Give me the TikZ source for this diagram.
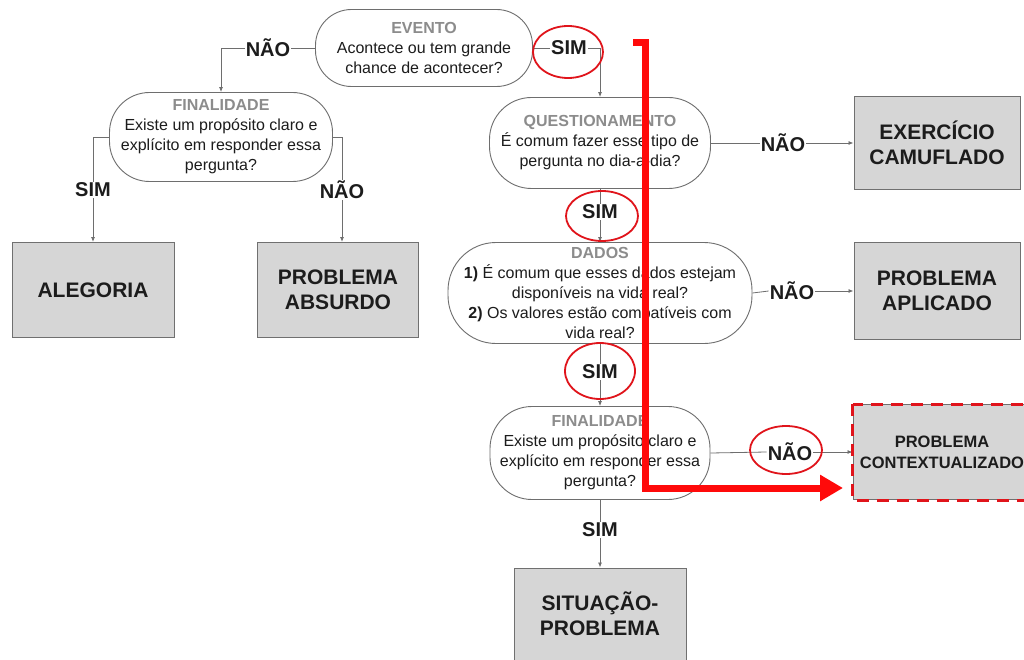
\documentclass[tikz,border=0pt]{standalone}
\usepackage{fontspec}
\setmainfont{Liberation Sans}
\usetikzlibrary{arrows.meta,calc}
\definecolor{linec}{HTML}{6E6E6E}
\definecolor{boxfill}{HTML}{D6D6D6}
\definecolor{boxdraw}{HTML}{707070}
\definecolor{titlec}{HTML}{8C8C8C}
\definecolor{textc}{HTML}{1C1C1C}
\definecolor{redc}{HTML}{E0141B}
\definecolor{redarrow}{HTML}{FF0A0A}
\begin{document}
\begin{tikzpicture}[x=1pt,y=-1pt,
 stadium/.style={draw=linec, line width=0.9pt, fill=white, align=center, inner sep=0pt, text=textc, font=\fontsize{16}{20}\selectfont},
 result/.style={draw=boxdraw, line width=1pt, fill=boxfill, align=center, inner sep=0pt, text=textc, font=\bfseries\fontsize{21}{25}\selectfont},
 lab/.style={fill=white, inner sep=1pt, text=textc, font=\bfseries\fontsize{20}{24}\selectfont},
 conn/.style={draw=linec, line width=0.8pt},
 arr/.style={conn, -{Latex[length=5pt,width=4pt]}},
 circ/.style={draw=redc, line width=1.8pt}
]
\useasboundingbox (0,0) rectangle (1024,660);
\fill[white] (0,0) rectangle (1024,660);
\clip (0,0) rectangle (1024,660);

% decision nodes
\node[stadium, minimum width=217pt, minimum height=77pt, rounded corners=36pt] (ev) at (424,48)
  {{\bfseries\color{titlec}EVENTO}\\Acontece ou tem grande\\chance de acontecer?};
\node[stadium, minimum width=223pt, minimum height=89pt, rounded corners=40pt] (fin1) at (221,137)
  {{\bfseries\color{titlec}FINALIDADE}\\Existe um propósito claro e\\explícito em responder essa\\pergunta?};
\node[stadium, minimum width=221pt, minimum height=91pt, rounded corners=42pt] (q) at (600,143)
  {{\bfseries\color{titlec}QUESTIONAMENTO}\\É comum fazer esse tipo de\\pergunta no dia-a-dia?};
\node[stadium, minimum width=304pt, minimum height=101pt, rounded corners=48pt] (dados) at (600,293)
  {{\bfseries\color{titlec}DADOS}\\\textbf{1)} É comum que esses dados estejam\\disponíveis na vida real?\\\textbf{2)} Os valores estão compatíveis com\\vida real?};
\node[stadium, minimum width=220pt, minimum height=93pt, rounded corners=42pt] (fin2) at (600,453)
  {{\bfseries\color{titlec}FINALIDADE}\\Existe um propósito claro e\\explícito em responder essa\\pergunta?};

% result boxes
\node[result, minimum width=162pt, minimum height=95pt] (aleg) at (93,290) {ALEGORIA};
\node[result, minimum width=161pt, minimum height=95pt] (abs) at (338,290) {PROBLEMA\\ABSURDO};
\node[result, minimum width=166pt, minimum height=93pt] (exer) at (937,143) {EXERCÍCIO\\CAMUFLADO};
\node[result, minimum width=166pt, minimum height=97pt] (aplic) at (937,291) {PROBLEMA\\APLICADO};
\node[result, minimum width=178pt, minimum height=95pt, font=\bfseries\fontsize{16.5}{21}\selectfont] (ctx) at (942,452) {PROBLEMA\\CONTEXTUALIZADO};
\node[result, minimum width=172pt, minimum height=92pt] (sit) at (600,614) {SITUAÇÃO-\\PROBLEMA};

% labels
\node[lab] (nao1) at (268,48) {NÃO};
\node[lab] (sim1) at (569,48) {SIM};
\node[lab] (sim2) at (93,190) {SIM};
\node[lab] (nao2) at (342,190) {NÃO};
\node[lab] (sim3) at (600,212) {SIM};
\node[lab] (nao3) at (783,143) {NÃO};
\node[lab] (nao4) at (792,291) {NÃO};
\node[lab] (sim4) at (600,372) {SIM};
\node[lab] (nao5) at (790,452) {NÃO};
\node[lab] (sim5) at (600,530) {SIM};

% connectors
\draw[conn] (ev.west) -- (nao1.east);
\draw[arr] (nao1.west) -| (fin1.north);
\draw[conn] (ev.east) -- (sim1.west);
\draw[arr] (sim1.east) -| (q.north);
\draw[conn] (fin1.west) -| (sim2.north);
\draw[arr] (sim2.south) -- (aleg.north);
\draw[conn] (fin1.east) -| (nao2.north);
\draw[arr] (nao2.south) -- (nao2.south |- abs.north);
\draw[conn] (q.south) -- (sim3.north);
\draw[arr] (sim3.south) -- (dados.north);
\draw[conn] (q.east) -- (nao3.west);
\draw[arr] (nao3.east) -- (exer.west);
\draw[conn] (dados.east) -- (nao4.west);
\draw[arr] (nao4.east) -- (aplic.west);
\draw[conn] (dados.south) -- (sim4.north);
\draw[arr] (sim4.south) -- (fin2.north);
\draw[conn] (fin2.east) -- (nao5.west);
\draw[arr] (nao5.east) -- (ctx.west);
\draw[conn] (fin2.south) -- (sim5.north);
\draw[arr] (sim5.south) -- (sit.north);

% red highlights
\draw[redc, line width=3pt, dash pattern=on 12pt off 8pt] (ctx.north west) rectangle (ctx.south east);
\draw[circ] ($(sim1)+(-1,4)$) ellipse [x radius=35, y radius=26];
\draw[circ] ($(sim3)+(2,4)$) ellipse [x radius=36, y radius=25];
\draw[circ] ($(sim4)+(0,-1)$) ellipse [x radius=35, y radius=28];
\draw[circ] ($(nao5)+(-4,-2)$) ellipse [x radius=36, y radius=24];

\coordinate (rs) at (633,43);
\coordinate (rc) at (645,43);
\coordinate (rb) at (645,488);
\coordinate (re) at (843,488);
\draw[redarrow, line width=7pt, miter limit=10, -{Triangle[length=23pt,width=25pt]}] (rs) -- (rc) -- (rb) -- (re);
\end{tikzpicture}
\end{document}
